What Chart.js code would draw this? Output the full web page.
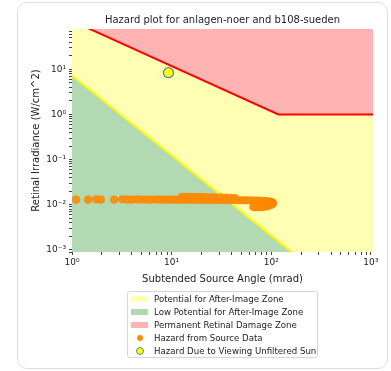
<!DOCTYPE html>
<html>
<head>
<meta charset="utf-8">
<script src="https://cdn.jsdelivr.net/npm/chart.js@4.4.0/dist/chart.umd.min.js"></script>
<style>
  body { margin: 0; background: #fff; font-family: "DejaVu Sans", sans-serif; }
  #wrap { position: relative; width: 391px; height: 371px; }
  #card { position: absolute; left: 17px; top: 2px; width: 371px; height: 367px; border: 1px solid #dedede; border-radius: 10px; box-sizing: border-box; }
  #chart { position: absolute; left: 0; top: 0; }
  #legend { position: absolute; left: 127px; top: 291px; width: 191px; height: 67px; border: 1px solid #d6d6d6; border-radius: 3px; box-sizing: border-box; background: #fff; }
  .row { height: 13px; display: flex; align-items: center; font-size: 8.6px; color: #222; white-space: nowrap; }
  .sym { width: 17px; height: 6px; margin-left: 3px; margin-right: 6px; display: flex; align-items: center; justify-content: center; }
  .dot { border-radius: 50%; }
</style>
</head>
<body>
<div id="wrap">
  <div id="card"></div>
  <canvas id="chart" width="391" height="371"></canvas>
  <div id="legend"></div>
</div>
<script>
// zone boundaries (mrad, W/cm^2)
var damageX = [1, 118, 1050];
var damageY = [118, 1, 1];
var afterImageX = [1, 10, 100, 1000];
var afterImageY = [7.3, 0.125, 0.0021, 0.0000355];

// hazard points from the source data
var sourceX = [1.1, 1.45, 1.75, 1.95, 2.65, 3.2, 3.6, 4.0, 4.5, 5.0, 5.6, 6.2, 6.9, 7.6, 8.4, 9.2, 10.0, 10.8, 11.6, 12.4,
  13.2, 14.0, 15.0, 16.0, 17.2, 18.5, 20, 21.5, 23, 25, 27, 29, 31, 34, 37, 40, 44, 48, 52, 57,
  62, 67, 72, 77, 82, 87, 92, 97, 101, 104, 103, 99, 94, 89, 84, 79, 74, 69, 66,
  12.6, 13.4, 14.3, 15.3, 16.5, 18, 19.5, 21, 23, 25.5, 28, 31, 35, 39, 43];
var sourceY = [0.0130, 0.0130, 0.0132, 0.0130, 0.0130, 0.0132, 0.0130, 0.0130, 0.0132, 0.0130, 0.0130, 0.0130, 0.0131, 0.0130, 0.0130, 0.0131, 0.0130, 0.0130, 0.0129, 0.0130,
  0.0131, 0.0130, 0.0130, 0.0129, 0.0130, 0.0129, 0.0130, 0.0128, 0.0129, 0.0128, 0.0129, 0.0128, 0.0128, 0.0127, 0.0128, 0.0127, 0.0127, 0.0126, 0.0126, 0.0125,
  0.0125, 0.0124, 0.0124, 0.0123, 0.0122, 0.0121, 0.0120, 0.0118, 0.0115, 0.0110, 0.0104, 0.0099, 0.0095, 0.0092, 0.0090, 0.0089, 0.0088, 0.0088, 0.0090,
  0.0148, 0.0150, 0.0149, 0.0150, 0.0148, 0.0149, 0.0147, 0.0148, 0.0146, 0.0147, 0.0145, 0.0146, 0.0144, 0.0143, 0.0141];

// the sun
var sunX = [9.3];
var sunY = [8.4];

var legendLabels = ['Potential for After-Image Zone', 'Low Potential for After-Image Zone', 'Permanent Retinal Damage Zone',
  'Hazard from Source Data', 'Hazard Due to Viewing Unfiltered Sun'];

function pts(xs, ys) { return xs.map(function (x, i) { return {x: x, y: ys[i]}; }); }

var FONT = 'DejaVu Sans';
Chart.defaults.font.family = FONT;

var sup = {'-': '\u207B', '0': '\u2070', '1': '\u00B9', '2': '\u00B2', '3': '\u00B3'};
function decadeLabel(v) {
  var e = Math.log10(v);
  if (Math.abs(e - Math.round(e)) > 1e-9) return '';
  return '10' + String(Math.round(e)).split('').map(function (c) { return sup[c]; }).join('');
}
function keepTick(t) {
  var p = Math.pow(10, Math.floor(Math.log10(t.value) + 1e-9));
  var r = t.value / p;
  return Math.abs(r - Math.round(r)) < 1e-6;
}
function isMajor(ctx) {
  return ctx.tick && Math.abs(Math.log10(ctx.tick.value) - Math.round(Math.log10(ctx.tick.value))) < 1e-9;
}

var canvas = document.getElementById('chart');
var config = {
  type: 'scatter',
  data: {
    datasets: [
      { label: legendLabels[4], data: pts(sunX, sunY), pointRadius: 5, pointBackgroundColor: '#ffff00',
        pointBorderColor: '#5b8aa0', pointBorderWidth: 1.3, order: 0 },
      { label: legendLabels[3], data: pts(sourceX, sourceY), pointRadius: 3.8, pointBackgroundColor: 'rgba(255,140,0,0.92)',
        pointBorderColor: '#f58300', pointBorderWidth: 0.6, order: 1 },
      { label: legendLabels[2], data: pts(damageX, damageY), showLine: true, borderColor: '#ff0000', borderWidth: 2,
        backgroundColor: 'rgb(255,179,179)', fill: 'end', pointRadius: 0, order: 2 },
      { label: legendLabels[1], data: pts(afterImageX, afterImageY), showLine: true, borderColor: '#ffff00', borderWidth: 2,
        backgroundColor: 'rgb(179,217,179)', fill: 'start', pointRadius: 0, order: 3 },
      { label: legendLabels[0], data: pts(damageX, damageY), showLine: true, borderWidth: 0, borderColor: 'rgba(0,0,0,0)',
        backgroundColor: 'rgb(255,255,179)', fill: 'start', pointRadius: 0, order: 4 }
    ]
  },
  options: {
    responsive: false,
    animation: false,
    layout: { padding: { left: 0, right: 18, top: 0, bottom: 79 } },
    plugins: {
      legend: { display: false },
      tooltip: { enabled: false },
      title: { display: true, text: 'Hazard plot for anlagen-noer and b108-sueden', fullSize: false, color: '#222',
        font: { family: FONT, size: 10, weight: 'normal' }, padding: { top: 14, bottom: 3 } }
    },
    scales: {
      x: {
        type: 'logarithmic', min: 1, max: 1050, z: 1,
        afterFit: function (s) { s.height = 40; },
        afterBuildTicks: function (s) { s.ticks = s.ticks.filter(keepTick); },
        grid: { color: 'rgba(0,0,0,0)', tickColor: '#444', tickLength: 3 },
        border: { display: false },
        ticks: { autoSkip: false, maxRotation: 0, padding: 2, color: '#222', font: { size: 9 }, callback: decadeLabel },
        title: { display: true, text: 'Subtended Source Angle (mrad)', color: '#222', font: { size: 10 }, padding: { top: 0, bottom: 7 } }
      },
      y: {
        type: 'logarithmic', min: 0.0009, max: 78, z: 1,
        afterFit: function (s) { s.width = 72; },
        afterBuildTicks: function (s) { s.ticks = s.ticks.filter(keepTick); },
        grid: { color: function (ctx) { return isMajor(ctx) ? 'rgba(120,120,120,0.3)' : 'rgba(0,0,0,0)'; }, tickColor: '#444', tickLength: 3 },
        border: { display: false },
        ticks: { autoSkip: false, padding: 3, color: '#222', font: { size: 9 }, callback: decadeLabel },
        title: { display: true, text: 'Retinal Irradiance (W/cm^2)', color: '#222', font: { size: 10 }, padding: { top: 30, bottom: 0 } }
      }
    }
  }
};
var hazardChart = new Chart(canvas, config);

// legend as html, same order as the reference
var legendSyms = [
  '<span class="sym" style="background:rgb(255,255,179)"></span>',
  '<span class="sym" style="background:rgb(179,217,179)"></span>',
  '<span class="sym" style="background:rgb(255,179,179)"></span>',
  '<span class="sym"><span class="dot" style="width:6px;height:6px;background:#ff8c00"></span></span>',
  '<span class="sym"><span class="dot" style="width:6px;height:6px;background:#ffff00;border:1px solid #5b8aa0"></span></span>'
];
document.getElementById('legend').innerHTML = legendLabels.map(function (l, i) {
  return '<div class="row">' + legendSyms[i] + '<span>' + l + '</span></div>';
}).join('');
</script>
</body>
</html>
